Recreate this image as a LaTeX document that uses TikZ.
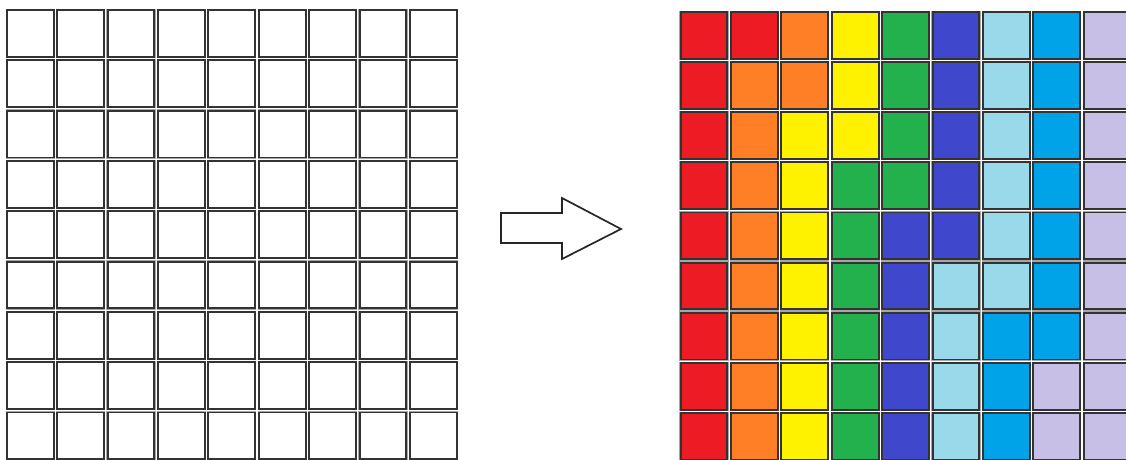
\documentclass[tikz,border=0pt]{standalone}
\usetikzlibrary{positioning}
\definecolor{cred}{RGB}{237,28,36}
\definecolor{corange}{RGB}{255,127,39}
\definecolor{cyellow}{RGB}{255,242,0}
\definecolor{cgreen}{RGB}{34,177,76}
\definecolor{cblue}{RGB}{63,72,204}
\definecolor{clight}{RGB}{153,217,234}
\definecolor{ccyan}{RGB}{0,162,232}
\definecolor{clav}{RGB}{200,191,231}
\tikzset{
  cell/.style={draw=black!80,line width=1.9pt,minimum size=46.8pt,inner sep=0pt,
    preaction={draw=black!35,line width=2.5pt}},
  blockarrow/.style={draw=black!85,line width=1.7pt,fill=white,line join=miter}
}

\begin{document}
\begin{tikzpicture}[x=1pt,y=-1pt]
  \clip (0,0) rectangle (1126,459);
  \fill[white] (0,0) rectangle (1126,459);
  % empty grid
  \foreach \i in {0,...,8}
    \foreach \j in {0,...,8}
      \node[cell,fill=white] (l-\i-\j) at ({30.2+\j*50.4},{33.5+\i*50.3}) {};
  % block arrow
  \draw[blockarrow] (501,213) -- (562,213) -- (562,198) -- (621,229)
    -- (562,259) -- (562,243) -- (501,243) -- cycle;
  % coloured grid
  \foreach \row [count=\i from 0] in {
      {cred,cred,corange,cyellow,cgreen,cblue,clight,ccyan,clav},
      {cred,corange,corange,cyellow,cgreen,cblue,clight,ccyan,clav},
      {cred,corange,cyellow,cyellow,cgreen,cblue,clight,ccyan,clav},
      {cred,corange,cyellow,cgreen,cgreen,cblue,clight,ccyan,clav},
      {cred,corange,cyellow,cgreen,cblue,cblue,clight,ccyan,clav},
      {cred,corange,cyellow,cgreen,cblue,clight,clight,ccyan,clav},
      {cred,corange,cyellow,cgreen,cblue,clight,ccyan,ccyan,clav},
      {cred,corange,cyellow,cgreen,cblue,clight,ccyan,clav,clav},
      {cred,corange,cyellow,cgreen,cblue,clight,ccyan,clav,clav}}
    \foreach \c [count=\j from 0] in \row
      \node[cell,fill=\c] (r-\i-\j) at ({704+\j*50.4},{35.5+\i*50.1}) {};
\end{tikzpicture}
\end{document}
